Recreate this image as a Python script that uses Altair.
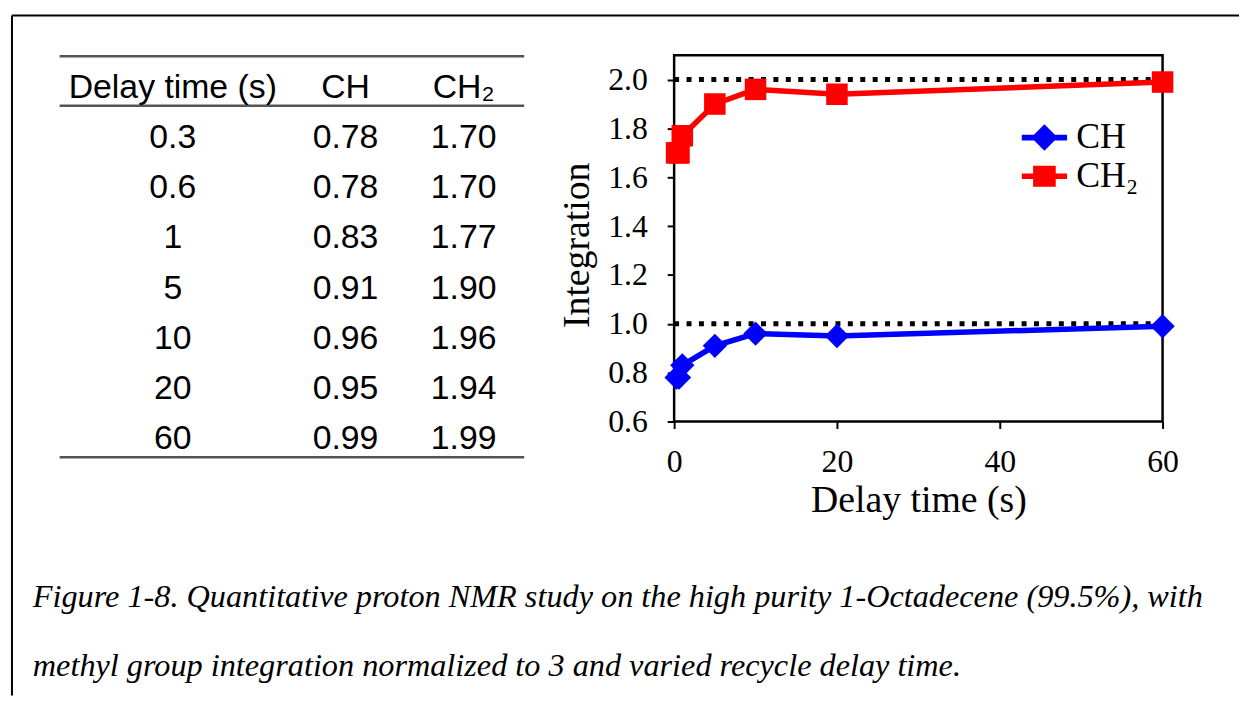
import altair as alt
import pandas as pd

# ---------------- data ----------------
delay_s = [0.3, 0.6, 1, 5, 10, 20, 60]
ch_vals = [0.78, 0.78, 0.83, 0.91, 0.96, 0.95, 0.99]
ch2_vals = [1.70, 1.70, 1.77, 1.90, 1.96, 1.94, 1.99]
series_names = ["CH", "CH\u2082"]
series_colors = ["#0000ff", "#ff0000"]
reference_levels = [1.0, 2.0]

table_headers = ["Delay time (s)", "CH", "CH\u2082"]
delay_labels = ["0.3", "0.6", "1", "5", "10", "20", "60"]
ch_labels = ["0.78", "0.78", "0.83", "0.91", "0.96", "0.95", "0.99"]
ch2_labels = ["1.70", "1.70", "1.77", "1.90", "1.96", "1.94", "1.99"]

x_ticks = [0, 20, 40, 60]
y_ticks = [0.6, 0.8, 1.0, 1.2, 1.4, 1.6, 1.8, 2.0]
x_domain = [0, 60]
y_domain = [0.6, 2.1]

caption_lines = [
    "Figure 1-8. Quantitative proton NMR study on the high purity 1-Octadecene (99.5%), with",
    "methyl group integration normalized to 3 and varied recycle delay time.",
]

# ---------------- layout (pixels inside the view) ----------------
W, H = 1236, 685
PLOT_X = [667, 1159]
PLOT_Y = [409, 40]
SERIF = "Liberation Serif"
SANS = "Liberation Sans"

df = pd.DataFrame({
    "delay": delay_s * 2,
    "value": ch_vals + ch2_vals,
    "series": [series_names[0]] * len(delay_s) + [series_names[1]] * len(delay_s),
})
frame_df = pd.DataFrame({"x0": [x_domain[0]], "x1": [x_domain[1]], "y0": [y_domain[0]], "y1": [y_domain[1]]})
ref_df = pd.DataFrame({"level": reference_levels, "x0": [x_domain[0]] * 2, "x1": [x_domain[1]] * 2})
one = pd.DataFrame({"k": [0]})


def xs():
    return alt.Scale(domain=x_domain, range=PLOT_X, nice=False, zero=False)


def ys():
    return alt.Scale(domain=y_domain, range=PLOT_Y, nice=False, zero=False)


def cs():
    return alt.Scale(domain=series_names, range=series_colors)


x_axis = alt.Axis(
    orient="bottom", offset=-(H - PLOT_Y[0]), values=x_ticks, format="d",
    labelFont=SERIF, labelFontSize=32, labelColor="black", labelPadding=18,
    labelFlush=False, tickSize=7, tickWidth=2, tickColor="black",
    domain=False, grid=False,
    title="Delay time (s)", titleFont=SERIF, titleFontSize=38,
    titleFontWeight="normal", titleColor="black", titleY=91,
    titleBaseline="alphabetic",
)
y_axis = alt.Axis(
    orient="left", offset=-PLOT_X[0], values=y_ticks, format=".1f",
    labelFont=SERIF, labelFontSize=32, labelColor="black", labelPadding=20,
    tickSize=7, tickWidth=2, tickColor="black", domain=False, grid=False,
    title="Integration", titleFont=SERIF, titleFontSize=38,
    titleFontWeight="normal", titleColor="black", titleAngle=270,
    titleX=-86, titleY=231, titleBaseline="alphabetic", titleAlign="center",
)

# ---------------- plot ----------------
frame = alt.Chart(frame_df).mark_rect(filled=False, color="black", strokeWidth=2.5).encode(
    x=alt.X("x0:Q", scale=xs(), axis=None), x2="x1:Q",
    y=alt.Y("y0:Q", scale=ys(), axis=None), y2="y1:Q",
)
ref = alt.Chart(ref_df).mark_rule(color="black", strokeWidth=5, strokeDash=[5, 7.5]).encode(
    y=alt.Y("level:Q", scale=ys(), axis=None),
    x=alt.X("x0:Q", scale=xs(), axis=None), x2="x1:Q",
)
lines = alt.Chart(df).mark_line(strokeWidth=5.5).encode(
    x=alt.X("delay:Q", scale=xs(), axis=x_axis),
    y=alt.Y("value:Q", scale=ys(), axis=y_axis),
    color=alt.Color("series:N", scale=cs(), legend=None),
)
points = alt.Chart(df).mark_point(filled=True, opacity=1).encode(
    x=alt.X("delay:Q", scale=xs(), axis=None),
    y=alt.Y("value:Q", scale=ys(), axis=None),
    color=alt.Color("series:N", scale=cs(), legend=None),
    shape=alt.Shape("series:N", scale=alt.Scale(domain=series_names, range=["diamond", "square"]), legend=None),
    size=alt.Size("series:N", scale=alt.Scale(domain=series_names, range=[600, 470]), legend=None),
)

# legend (line + marker symbols)
legend_paths = [
    "M-1.2,-0.15H1.2V0.15H-1.2Z M0,-0.7L0.7,0L0,0.7L-0.7,0Z",
    "M-1.2,-0.15H1.2V0.15H-1.2Z M-0.6,-0.56H0.6V0.56H-0.6Z",
]
leg = alt.Legend(
    title=None, orient="none", legendX=1021, legendY=104, padding=0,
    symbolSize=1444, symbolStrokeWidth=0, labelFont=SERIF, labelFontSize=36,
    labelColor="black", labelOffset=13, rowPadding=2, labelLimit=300,
)
legend_layer = alt.Chart(df).mark_point(filled=True, opacity=1, size=0).encode(
    x=alt.X("delay:Q", scale=xs(), axis=None),
    y=alt.Y("value:Q", scale=ys(), axis=None),
    color=alt.Color("series:N", scale=cs(), legend=leg),
    shape=alt.Shape("series:N", scale=alt.Scale(domain=series_names, range=legend_paths), legend=leg),
)

# ---------------- table ----------------
table_df = pd.DataFrame({
    "row": list(range(len(delay_labels) + 1)),
    "c1": [table_headers[0]] + delay_labels,
    "c2": [table_headers[1]] + ch_labels,
    "c3": [table_headers[2]] + ch2_labels,
})


def table_col(field, xpos):
    return alt.Chart(table_df).mark_text(
        font=SANS, fontSize=34, color="black", align="center", baseline="alphabetic"
    ).encode(
        x=alt.value(xpos),
        y=alt.Y("row:O", scale=alt.Scale(type="point", range=[83, 437], padding=0), axis=None),
        text=f"{field}:N",
    )


def hrule(ypos, x0, x1, color, width):
    return alt.Chart(one).mark_rule(color=color, strokeWidth=width).encode(
        x=alt.value(x0), x2=alt.value(x1), y=alt.value(ypos)
    )


# ---------------- caption ----------------
cap_df = pd.DataFrame({"line": list(range(len(caption_lines))), "text": caption_lines})
caption = alt.Chart(cap_df).mark_text(
    font=SERIF, fontStyle="italic", fontSize=32.5, color="black",
    align="left", baseline="alphabetic",
).encode(
    x=alt.value(21),
    y=alt.Y("line:O", scale=alt.Scale(type="point", range=[596, 665], padding=0), axis=None),
    text="text:N",
)

border_left = alt.Chart(one).mark_rule(color="black", strokeWidth=2).encode(
    x=alt.value(0), y=alt.value(0), y2=alt.value(H)
)

chart = alt.layer(
    hrule(0, 0, W, "black", 2),
    border_left,
    hrule(41, 48, 516, "#555555", 2.5),
    hrule(91, 48, 516, "#555555", 2.5),
    hrule(445, 48, 516, "#555555", 2.5),
    table_col("c1", 162),
    table_col("c2", 336),
    table_col("c3", 455),
    caption,
    frame, ref, lines, points, legend_layer,
).resolve_scale(
    x="independent", y="independent", color="independent", shape="independent"
).properties(
    width=W, height=H,
    padding={"left": 3, "top": 4, "right": 0, "bottom": 0},
    background="white",
).configure_view(strokeWidth=0)

chart.save("out.html", embed_options={"renderer": "svg", "actions": False})
